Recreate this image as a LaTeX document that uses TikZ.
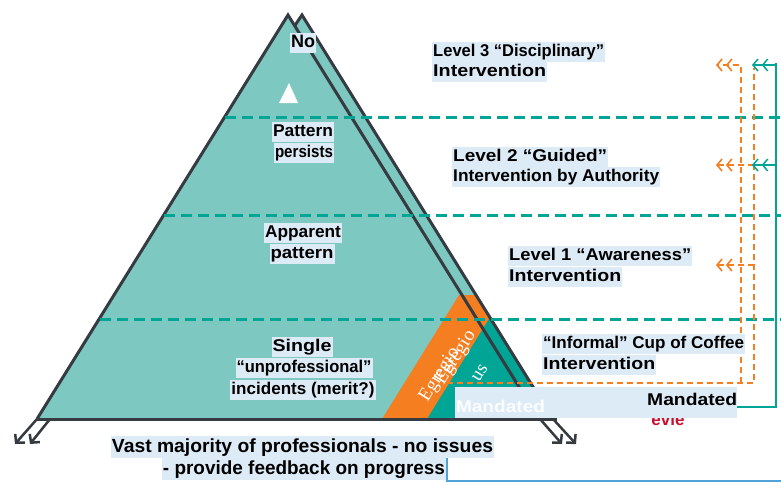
\documentclass[tikz,border=0pt]{standalone}
\usepackage{fontspec}
\setmainfont{Liberation Sans}
\newfontfamily\serifw{Liberation Serif}
\usetikzlibrary{arrows.meta}
\definecolor{lteal}{HTML}{7DC9C1}
\definecolor{dteal}{HTML}{00A596}
\definecolor{orng}{HTML}{F47E20}
\definecolor{outl}{HTML}{353B40}
\definecolor{hl}{HTML}{DDEBF7}
\definecolor{blu}{HTML}{4FA3D9}
\definecolor{redt}{HTML}{C8102E}
\newcommand\fw[2]{\resizebox{#1pt}{\height}{#2}}
\begin{document}
\begin{tikzpicture}[x=1pt,y=-1pt,
  lbl/.style={fill=hl,inner xsep=1pt,inner ysep=1.5pt,text height=13pt,text depth=4pt,
    font=\fontsize{17}{20}\selectfont\bfseries},
  lblb/.style={lbl,text height=14.5pt,text depth=4.5pt,font=\fontsize{19}{22}\selectfont\bfseries},
  tdash/.style={dteal,line width=3pt,dash pattern=on 11pt off 6pt},
  odash/.style={orng,line width=1.6pt,dash pattern=on 6pt off 4pt},
  tline/.style={dteal,line width=1.5pt},
  dchev/.style={-{Straight Barb[length=5pt,width=12pt,sep=3pt]Straight Barb[length=5pt,width=12pt]}},
  edge/.style={outl,line width=3pt,line join=miter},
  barrow/.style={outl,line width=2.5pt,-{Straight Barb[length=6pt,width=13pt]}},
  eg/.style={text=white,font=\serifw\fontsize{19}{20}\selectfont,rotate=58,inner sep=0pt}
]
\useasboundingbox (0,0) rectangle (781,482);
\fill[white] (0,0) rectangle (781,482);

% pyramid fills
\fill[lteal] (302,15) -- (51,419) -- (553,419) -- cycle;
\fill[lteal] (288,15) -- (37,419) -- (539,419) -- cycle;
\begin{scope}
  \clip (302,15) -- (51,419) -- (553,419) -- cycle;
  \fill[orng] (382,419) -- (459,295) -- (620,295) -- (620,419) -- cycle;
  \fill[dteal] (427,419) -- (551,219) -- (700,219) -- (700,419) -- cycle;
\end{scope}
\fill[white] (289,83) -- (279,103) -- (298,103) -- cycle;

% outlines
\draw[edge] (295,25.3) -- (302,15) -- (553,419);
\draw[edge] (37,419) -- (288,15) -- (539,419);
\draw[edge] (37,419) -- (557,419);
\draw[barrow] (37,419) -- (15,444);
\draw[barrow] (50,419) -- (30,444);
\draw[barrow] (540,419) -- (562,444);
\draw[barrow] (553,419) -- (576,444);

% level lines
\draw[tdash] (225,117) -- (781,117);
\draw[tdash] (164,215) -- (781,215);
\draw[tdash] (100,319) -- (781,319);

% orange feedback
\draw[odash] (447,383) -- (754,383) -- (754,68);
\draw[odash,dchev] (741,383) -- (741,65) -- (716,65);
\draw[odash,dchev] (754,165) -- (716,165);
\draw[odash,dchev] (754,265) -- (716,265);

% teal escalation
\draw[tline] (737,407) -- (776,407) -- (776,63);
\draw[tline,dchev] (776,65) -- (752,65);
\draw[tline,dchev] (776,165) -- (752,165);

% egregious texts
\node[eg] (eg1) at (440,375) {Egregio};
\node[eg] (eg2) at (456,358) {Egregio};
\node[eg] (eg3) at (480,373) {us};

% red partial text and mandated box
\node[text=redt,font=\fontsize{17}{20}\selectfont\bfseries,inner sep=0pt,anchor=base] (rv) at (668,425) {evie};
\fill[hl] (455,387) rectangle (737,418);
\node[inner sep=0pt,text=white!92!hl,font=\fontsize{17}{20}\selectfont\bfseries] (mw) at (500.5,406) {\fw{89}{Mandated}};
\node[lbl,fill=none,anchor=west] (mb) at (646,401) {\fw{90}{Mandated}};

% pyramid labels
\node[lbl,font=\fontsize{18}{20}\selectfont\bfseries] (no) at (303,43) {\fw{24}{No}};
\node[lbl] (pa1) at (303,132) {\fw{60}{Pattern}};
\node[lbl] (pa2) at (304,153) {\fw{58}{persists}};
\node[lbl] (ap1) at (303,233) {\fw{76}{Apparent}};
\node[lbl] (ap2) at (302,254) {\fw{63}{pattern}};
\node[lbl] (si1) at (302,347) {\fw{59}{Single}};
\node[lbl] (si2) at (304,368) {\fw{135}{“unprofessional”}};
\node[lbl] (si3) at (303,390) {\fw{143}{incidents (merit?)}};

% right labels
\node[lbl,anchor=west] (l3a) at (432,52) {\fw{171}{Level 3 “Disciplinary”}};
\node[lbl,anchor=west] (l3b) at (432,72) {\fw{113}{Intervention}};
\node[lbl,anchor=west] (l2a) at (452,157) {\fw{154}{Level 2 “Guided”}};
\node[lbl,anchor=west] (l2b) at (452,177) {\fw{206}{Intervention by Authority}};
\node[lbl,anchor=west] (l1a) at (508,256) {\fw{182}{Level 1 “Awareness”}};
\node[lbl,anchor=west] (l1b) at (508,277) {\fw{112}{Intervention}};
\node[lbl,anchor=west] (l0a) at (542,344) {\fw{201}{“Informal” Cup of Coffee}};
\node[lbl,anchor=west] (l0b) at (542,365) {\fw{112}{Intervention}};

% bottom text
\node[lblb] (b1) at (302.5,447) {\fw{381}{Vast majority of professionals - no issues}};
\node[lblb] (b2) at (304,469) {\fw{282}{- provide feedback on progress}};
\draw[blu,line width=1.5pt] (447,458) -- (447,481) -- (781,481);
\end{tikzpicture}
\end{document}
